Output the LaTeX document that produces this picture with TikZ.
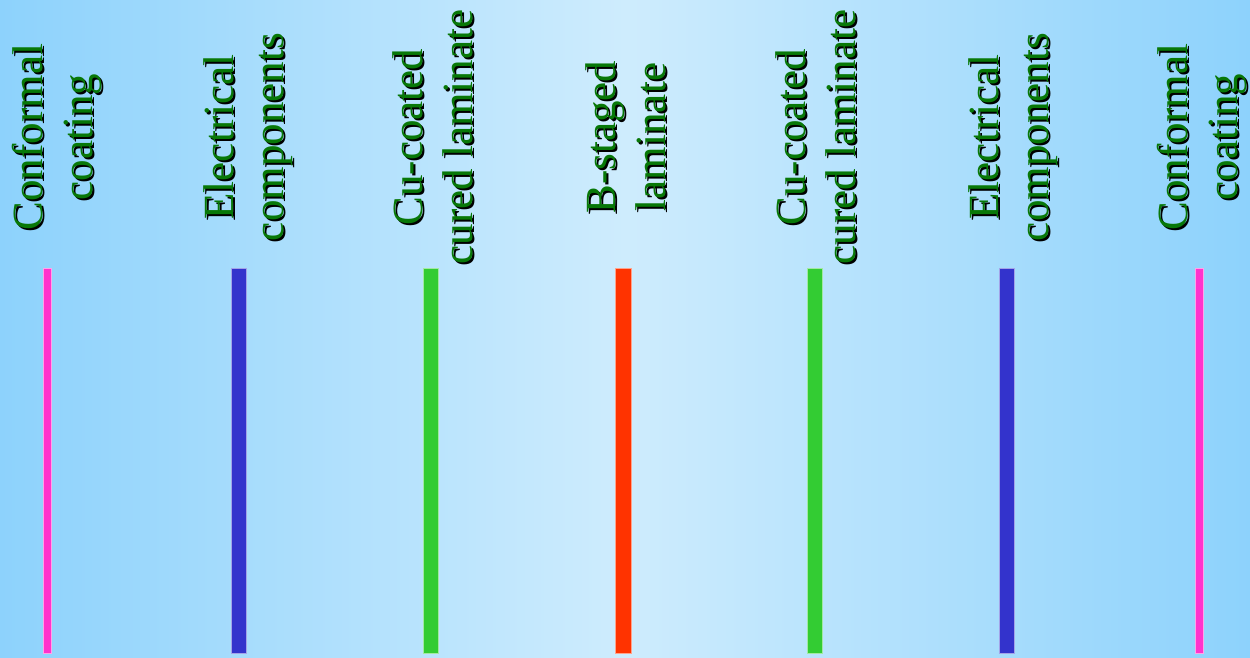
\documentclass[tikz,border=0pt]{standalone}
\usepackage{fontspec}
\setmainfont{Liberation Serif}
\usetikzlibrary{positioning, calc}

\definecolor{skyedge}{HTML}{8DD2FC}
\definecolor{skymid}{HTML}{CEECFD}
\definecolor{textgreen}{HTML}{087808}
\definecolor{pinkbar}{HTML}{FF33CC}
\definecolor{bluebar}{HTML}{3333CC}
\definecolor{greenbar}{HTML}{33CC33}
\definecolor{redbar}{HTML}{FF3300}

\begin{document}
\begin{tikzpicture}[
            x=0.02cm, y=-0.02cm,
            layerbar/.style={rectangle, inner sep=0pt, minimum height=7.7cm},
            layername/.style={rotate=90, anchor=north, align=center, inner sep=0pt,
                font=\fontsize{24.5}{28.5}\selectfont},
        ]
            % Background
            \shade[left color=skyedge, right color=skyedge, middle color=skymid]
                (0,0) rectangle (1250,657);
            \useasboundingbox (0,0) rectangle (1250,657);

            % Draw the layers and their names
            \foreach \x/\d/\col/\w/\txt [count=\i] in {
                    47/35/pinkbar/8/{Conformal\\coating},
                    239/36/bluebar/15/{Electrical\\components},
                    431/39/greenbar/15/{Cu-coated\\cured laminate},
                    623/38/redbar/16/{B-staged\\laminate},
                    815/40/greenbar/15/{Cu-coated\\cured laminate},
                    1007/39/bluebar/15/{Electrical\\components},
                    1199/42/pinkbar/8/{Conformal\\coating}}
            {
                \node[layerbar, fill=\col, draw=\col!45!white, line width=0.4pt,
                    minimum width=\w*0.02cm] (B-\i) at (\x,460.5) {};
                \node[layername, text=black] (S-\i) at (\x-\d+2,139) {\txt};
                \node[layername, text=textgreen] (L-\i) at (\x-\d,137) {\txt};
            }
        \end{tikzpicture}
\end{document}
